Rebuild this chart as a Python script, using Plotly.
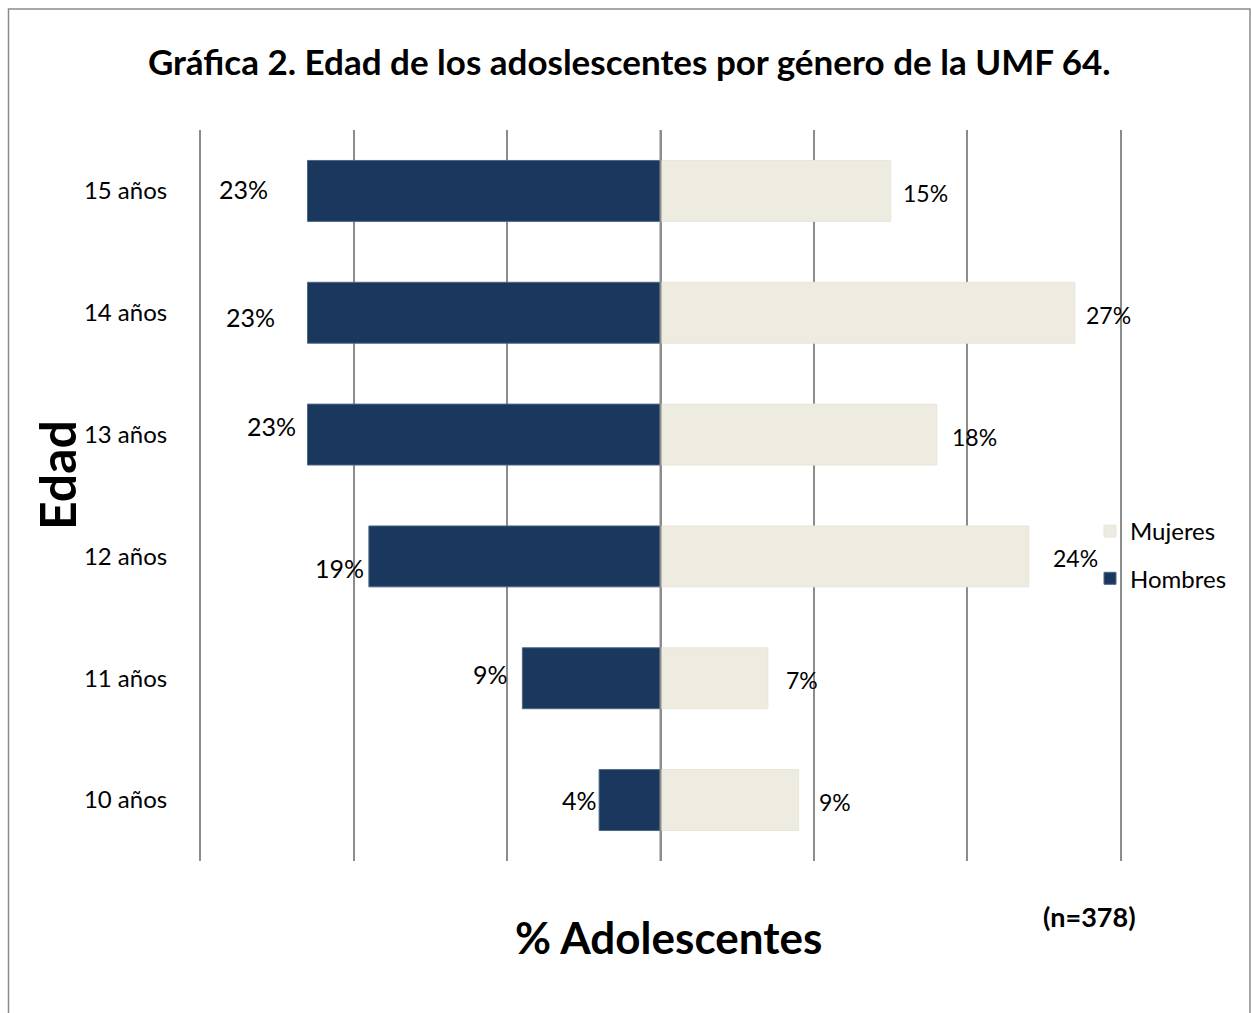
import plotly.graph_objects as go

# Age groups (bottom to top) and share of adolescents per sex, in %
edades = ["10 años", "11 años", "12 años", "13 años", "14 años", "15 años"]
hombres = [4, 9, 19, 23, 23, 23]
mujeres = [9, 7, 24, 18, 27, 15]

# Label nudges in pixels (dx, dy) relative to each bar's end
nudge_hombres = [(-20, 0), (-32, 4), (-29, -12), (-36, 9), (-57, -4), (-64, 2)]
nudge_mujeres = [(36, -2), (34, -2), (47, -2), (38, -2), (34, -2), (35, -2)]

NAVY = "#1a375e"
BEIGE = "#eeebe0"
GRID = "#8c8c8c"
FONT = "Lato, 'Open Sans', sans-serif"

# Plot-area geometry in pixels (used to place paper-referenced items)
L, T, W, H = 197, 130, 927, 731
FIG_W, FIG_H = 1251, 1013


def px(xp):
    return (xp - L) / W


def py(yp):
    return (T + H - yp) / H


fig = go.Figure()
fig.add_trace(go.Bar(
    y=edades, x=[-v for v in hombres], orientation="h", name="Hombres",
    marker=dict(color=NAVY, line=dict(color="#4d6685", width=1)),
    legendgroup="h", legendrank=2, hoverinfo="skip",
))
fig.add_trace(go.Bar(
    y=edades, x=mujeres, orientation="h", name="Mujeres",
    marker=dict(color=BEIGE, line=dict(color="#e8e5d9", width=1)),
    legendgroup="m", legendrank=1, hoverinfo="skip",
))

annotations = []
for cat, v, (dx, dy) in zip(edades, hombres, nudge_hombres):
    annotations.append(dict(x=-v, y=cat, xref="x", yref="y", text=f"{v}%",
                            showarrow=False, xanchor="center", yanchor="middle",
                            xshift=dx, yshift=dy, font=dict(size=25, color="#000")))
for cat, v, (dx, dy) in zip(edades, mujeres, nudge_mujeres):
    annotations.append(dict(x=v, y=cat, xref="x", yref="y", text=f"{v}%",
                            showarrow=False, xanchor="center", yanchor="middle",
                            xshift=dx, yshift=dy, font=dict(size=23, color="#000")))

# Axis titles and sample size note
annotations += [
    dict(text="<b>Edad</b>", xref="paper", yref="paper", x=px(57), y=py(475),
         textangle=-90, showarrow=False, xanchor="center", yanchor="middle",
         font=dict(size=50, color="#000")),
    dict(text="<b>% Adolescentes</b>", xref="paper", yref="paper", x=px(668), y=py(937),
         showarrow=False, xanchor="center", yanchor="middle",
         font=dict(size=44, color="#000")),
    dict(text="<b>(n=378)</b>", xref="paper", yref="paper", x=px(1089), y=py(916),
         showarrow=False, xanchor="center", yanchor="middle",
         font=dict(size=27, color="#000")),
]

fig.update_layout(
    width=FIG_W, height=FIG_H,
    margin=dict(l=L, r=FIG_W - L - W, t=T, b=FIG_H - T - H),
    paper_bgcolor="white", plot_bgcolor="white",
    font=dict(family=FONT, color="#000"),
    barmode="relative", bargap=0.5,
    title=dict(text="<b>Gráfica 2. Edad de los adoslescentes por género de la UMF 64.</b>",
               x=0.503, xanchor="center", y=1 - 63 / FIG_H, yanchor="middle",
               font=dict(size=35, color="#000")),
    xaxis=dict(range=[-30.2, 30.2], dtick=10, tick0=0, showticklabels=False,
               showgrid=True, gridcolor=GRID, gridwidth=1.5,
               zeroline=False, showline=False, fixedrange=True),
    yaxis=dict(categoryorder="array", categoryarray=edades,
               showgrid=False, zeroline=False, showline=False,
               ticks="outside", ticklen=24, tickcolor="rgba(0,0,0,0)",
               tickfont=dict(size=24, color="#000"), fixedrange=True),
    legend=dict(x=px(1090), y=py(509), xanchor="left", yanchor="top",
                traceorder="grouped", tracegroupgap=13,
                font=dict(size=24, color="#000"), bgcolor="rgba(0,0,0,0)",
                itemwidth=30),
    annotations=annotations,
    shapes=[
        # vertical axis through zero, drawn over the bars
        dict(type="line", xref="x", yref="paper", x0=0, x1=0, y0=0, y1=1,
             line=dict(color=GRID, width=2), layer="above"),
        # outer chart frame
        dict(type="rect", xref="paper", yref="paper",
             x0=px(8.5), x1=px(1250), y0=py(1030), y1=py(9),
             line=dict(color="#8a8a8a", width=1.5), fillcolor="rgba(0,0,0,0)", layer="below"),
    ],
)

fig.write_html("out.html")
